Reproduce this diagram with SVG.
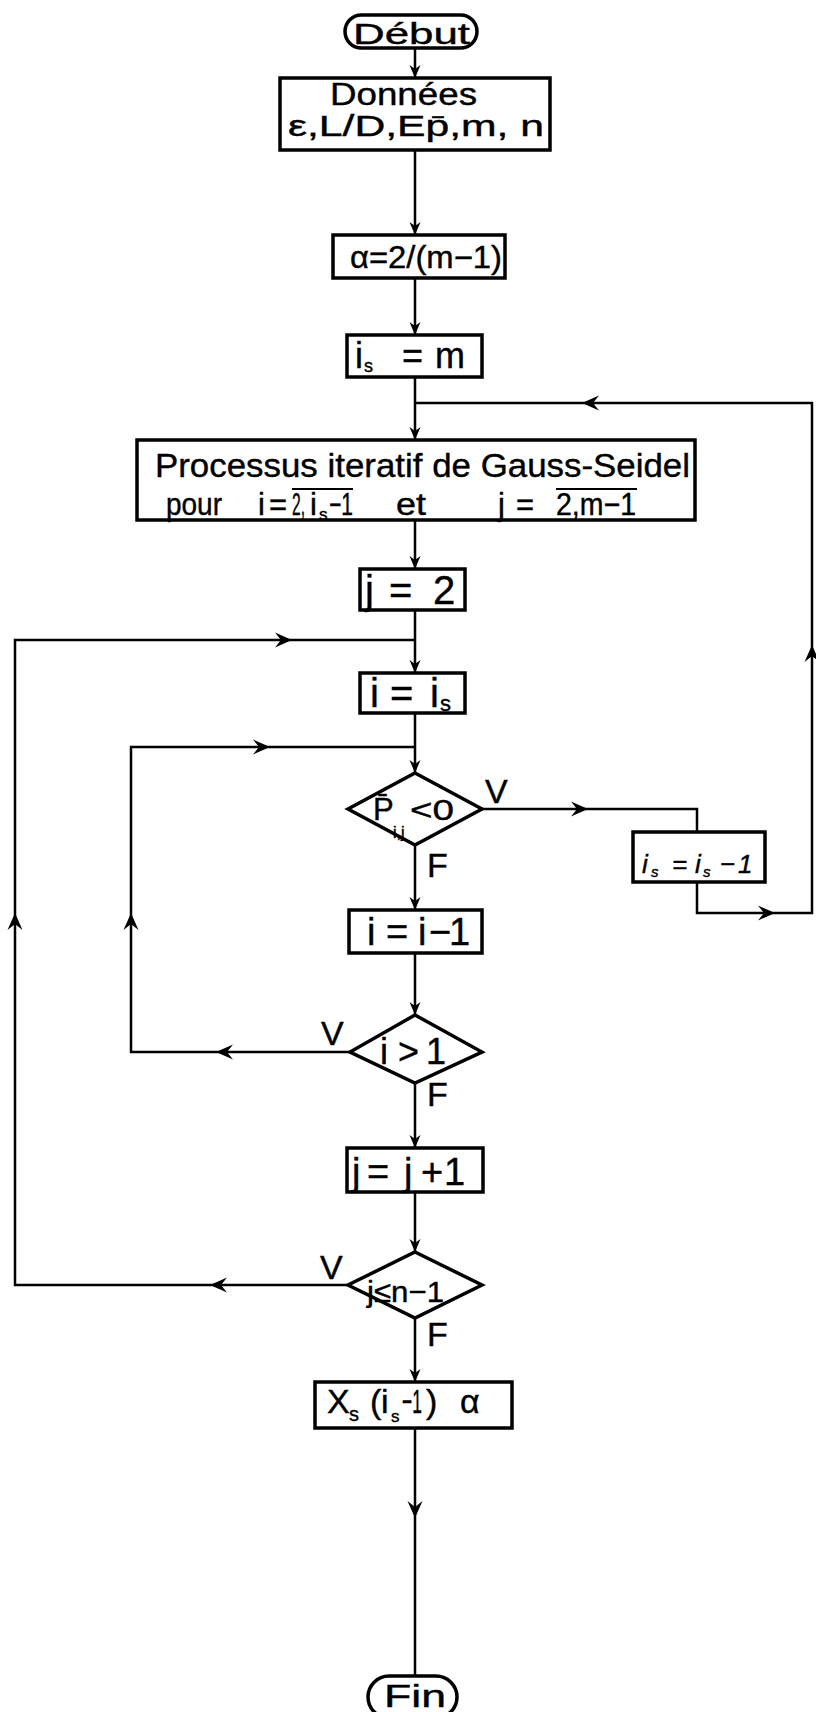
<svg xmlns="http://www.w3.org/2000/svg" xmlns:xlink="http://www.w3.org/1999/xlink" width="816" height="1712" viewBox="0 0 816 1712">
<style>
.box{fill:#fff;stroke:#000;stroke-width:3.5}
.ln{fill:none;stroke:#000;stroke-width:2.5}
.ol{fill:none;stroke:#000;stroke-width:2}
text{font-family:"Liberation Sans","DejaVu Sans",sans-serif;fill:#000;stroke:#000;stroke-width:0.4}
.it{font-style:italic}
</style>
<defs>
<path id="ah" d="M0,0 L-13,-5.5 L-9,0 L-13,5.5 Z"/>
<path id="ahL" d="M0,0 L-17,-7.5 L-11,0 L-17,7.5 Z"/>
</defs>
<rect width="816" height="1712" fill="#fff"/>

<g id="connectors">
<path class="ln" d="M415,48 V78 M415,150 V235 M415,278 V335 M415,377 V440 M415,520 V569 M415,610 V673 M415,713 V773 M415,845 V910 M415,953 V1015 M415,1083 V1148 M415,1192 V1252 M415,1318 V1382 M415,1428 V1676"/>
<path class="ln" d="M482,809 H697 V832 M697,882 V913 H812 V403 H415"/>
<path class="ln" d="M350,1052 H131 V747 H415"/>
<path class="ln" d="M348,1285 H15 V640 H415"/>
<use xlink:href="#ah" transform="translate(415,78) rotate(90)"/>
<use xlink:href="#ah" transform="translate(415,235) rotate(90)"/>
<use xlink:href="#ah" transform="translate(415,335) rotate(90)"/>
<use xlink:href="#ah" transform="translate(415,440) rotate(90)"/>
<use xlink:href="#ah" transform="translate(415,569) rotate(90)"/>
<use xlink:href="#ah" transform="translate(415,673) rotate(90)"/>
<use xlink:href="#ah" transform="translate(415,773) rotate(90)"/>
<use xlink:href="#ah" transform="translate(415,910) rotate(90)"/>
<use xlink:href="#ah" transform="translate(415,1015) rotate(90)"/>
<use xlink:href="#ah" transform="translate(415,1148) rotate(90)"/>
<use xlink:href="#ah" transform="translate(415,1252) rotate(90)"/>
<use xlink:href="#ah" transform="translate(415,1382) rotate(90)"/>
<use xlink:href="#ahL" transform="translate(415,1518) rotate(90)"/>
<use xlink:href="#ahL" transform="translate(588,809)"/>
<use xlink:href="#ahL" transform="translate(775,913)"/>
<use xlink:href="#ahL" transform="translate(812,645) rotate(-90)"/>
<use xlink:href="#ahL" transform="translate(582,403) rotate(180)"/>
<use xlink:href="#ahL" transform="translate(216,1052) rotate(180)"/>
<use xlink:href="#ahL" transform="translate(131,913) rotate(-90)"/>
<use xlink:href="#ahL" transform="translate(270,747)"/>
<use xlink:href="#ahL" transform="translate(210,1285) rotate(180)"/>
<use xlink:href="#ahL" transform="translate(15,913) rotate(-90)"/>
<use xlink:href="#ahL" transform="translate(292,640)"/>
</g>

<g id="debut">
<rect class="box" x="345" y="15" width="132" height="33" rx="16.5"/>
<text x="353" y="44" font-size="30" textLength="117" lengthAdjust="spacingAndGlyphs">Début</text>
</g>

<g id="donnees">
<rect class="box" x="280" y="78" width="270" height="72"/>
<text x="330" y="105" font-size="31" textLength="147" lengthAdjust="spacingAndGlyphs">Données</text>
<text x="288" y="136" font-size="29" textLength="256" lengthAdjust="spacingAndGlyphs">ε,L/D,Ep̄,m, n</text>
</g>

<g id="alpha">
<rect class="box" x="333" y="235" width="172" height="43"/>
<text x="350" y="268" font-size="31" textLength="152" lengthAdjust="spacingAndGlyphs">α=2/(m−1)</text>
</g>

<g id="is-m">
<rect class="box" x="347" y="335" width="135" height="42"/>
<text y="368" font-size="36"><tspan x="355">i</tspan><tspan x="364" dy="4" font-size="18">s</tspan><tspan x="402" dy="-4">=</tspan><tspan x="435">m</tspan></text>
</g>

<g id="gauss">
<rect class="box" x="137" y="440" width="558" height="80"/>
<text x="155" y="477" font-size="34" textLength="535" lengthAdjust="spacingAndGlyphs">Processus iteratif de Gauss-Seidel</text>
<text y="515" font-size="31"><tspan x="166" textLength="56" lengthAdjust="spacingAndGlyphs">pour</tspan><tspan x="258">i</tspan><tspan x="269">=</tspan><tspan x="292" textLength="13" lengthAdjust="spacingAndGlyphs">2,</tspan><tspan x="310">i</tspan><tspan x="319" dy="5" font-size="17">s</tspan><tspan x="329" dy="-5" textLength="24" lengthAdjust="spacingAndGlyphs">−1</tspan><tspan x="396" textLength="30" lengthAdjust="spacingAndGlyphs">et</tspan><tspan x="498">j</tspan><tspan x="516">=</tspan><tspan x="556" textLength="80" lengthAdjust="spacingAndGlyphs">2,m−1</tspan></text>
<path class="ol" d="M292,489 H353 M556,489 H637"/>
</g>

<g id="j2">
<rect class="box" x="360" y="569" width="105" height="41"/>
<text y="604" font-size="40"><tspan x="365">j</tspan><tspan x="389">=</tspan><tspan x="433">2</tspan></text>
</g>

<g id="i-is">
<rect class="box" x="360" y="673" width="105" height="40"/>
<text y="707" font-size="40"><tspan x="370">i</tspan><tspan x="390">=</tspan><tspan x="430">i</tspan><tspan x="440" dy="4" font-size="22">s</tspan></text>
</g>

<g id="cond-p">
<polygon class="box" points="415,773 482,809 415,845 348,809"/>
<text x="373" y="820" font-size="31">P̄</text>
<text x="393" y="838" font-size="16">i,j</text>
<text x="410" y="820" font-size="30" textLength="44" lengthAdjust="spacingAndGlyphs">&lt;0</text>
<text x="485" y="803" font-size="34">V</text>
<text x="427" y="877" font-size="34">F</text>
</g>

<g id="is-dec">
<rect class="box" x="633" y="832" width="132" height="50"/>
<text class="it" y="873" font-size="26"><tspan x="642">i</tspan><tspan x="651" dy="4" font-size="15">s</tspan><tspan x="672" dy="-4">=</tspan><tspan x="695">i</tspan><tspan x="703" dy="4" font-size="15">s</tspan><tspan x="720" dy="-4">−</tspan><tspan x="738">1</tspan></text>
</g>

<g id="i-dec">
<rect class="box" x="349" y="910" width="133" height="43"/>
<text y="945" font-size="38"><tspan x="367">i</tspan><tspan x="386">=</tspan><tspan x="418">i</tspan><tspan x="429">−</tspan><tspan x="449">1</tspan></text>
</g>

<g id="cond-i">
<polygon class="box" points="415,1015 482,1052 415,1083 350,1052"/>
<text y="1064" font-size="36"><tspan x="380">i</tspan><tspan x="398">&gt;</tspan><tspan x="426">1</tspan></text>
<text x="321" y="1045" font-size="34">V</text>
<text x="427" y="1106" font-size="34">F</text>
</g>

<g id="j-inc">
<rect class="box" x="347" y="1148" width="136" height="44"/>
<text y="1185" font-size="38"><tspan x="352">j</tspan><tspan x="367">=</tspan><tspan x="404">j</tspan><tspan x="421">+</tspan><tspan x="444">1</tspan></text>
</g>

<g id="cond-j">
<polygon class="box" points="415,1252 482,1285 415,1318 348,1285"/>
<text x="367" y="1302" font-size="30" textLength="77" lengthAdjust="spacingAndGlyphs">j≤n−1</text>
<text x="320" y="1279" font-size="34">V</text>
<text x="427" y="1346" font-size="34">F</text>
</g>

<g id="xs">
<rect class="box" x="315" y="1382" width="197" height="46"/>
<text y="1413" font-size="34"><tspan x="327">X</tspan><tspan x="349" dy="8" font-size="20">s</tspan><tspan x="370" dy="-8">(</tspan><tspan x="381">i</tspan><tspan x="391" dy="9" font-size="17">s</tspan><tspan x="402" dy="-9" textLength="20" lengthAdjust="spacingAndGlyphs">−1</tspan><tspan x="426">)</tspan><tspan x="460">α</tspan></text>
</g>

<g id="fin">
<rect class="box" x="368" y="1676" width="89" height="42" rx="21"/>
<text x="384" y="1707" font-size="32" textLength="62" lengthAdjust="spacingAndGlyphs">Fin</text>
</g>
</svg>
